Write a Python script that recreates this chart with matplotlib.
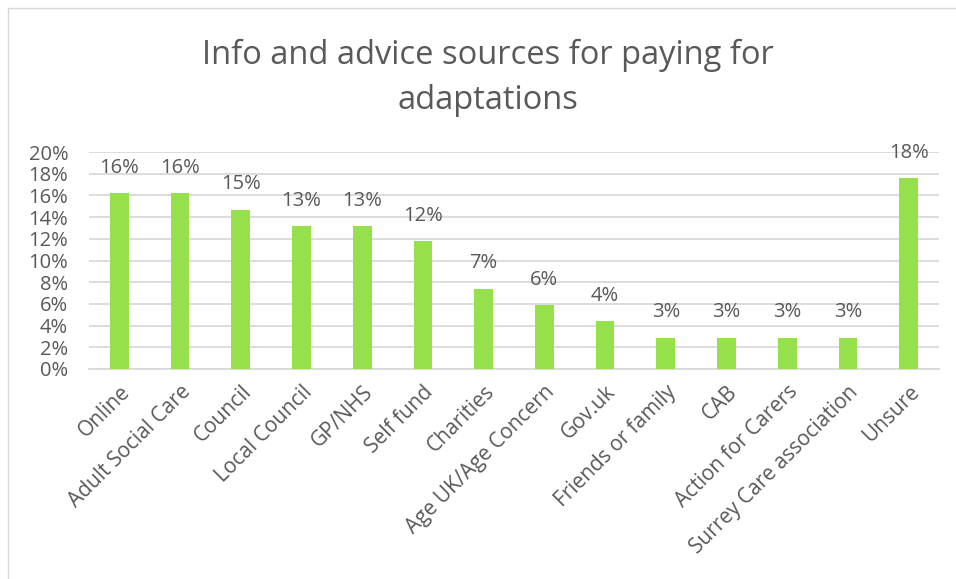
import matplotlib.pyplot as plt
import numpy as np
from matplotlib.lines import Line2D

# Survey answers (share of respondents)
categories = [
    "Online", "Adult Social Care", "Council", "Local Council", "GP/NHS",
    "Self fund", "Charities", "Age UK/Age Concern", "Gov.uk",
    "Friends or family", "CAB", "Action for Carers",
    "Surrey Care association", "Unsure",
]
shares = [0.162, 0.162, 0.147, 0.132, 0.132, 0.118, 0.074, 0.059, 0.044,
          0.029, 0.029, 0.029, 0.029, 0.176]
y_ticks = [0.00, 0.02, 0.04, 0.06, 0.08, 0.10, 0.12, 0.14, 0.16, 0.18, 0.20]

TEXT = "#595959"
GREEN = "#95E04B"
GRID = "#D9D9D9"
FS = 14.5

plt.rcParams["font.family"] = ["Open Sans", "DejaVu Sans"]

W, H = 956, 579
fig = plt.figure(figsize=(W / 100, H / 100), dpi=100)
ax = fig.add_axes([89 / W, 1 - 369 / H, (939 - 89) / W, (369 - 152) / H])

x = np.arange(len(categories))
ax.bar(x, shares, width=0.31, color=GREEN, zorder=3)

for xi, v in zip(x, shares):
    ax.annotate(f"{v * 100:.0f}%", (xi, v), xytext=(0, 11),
                textcoords="offset points", ha="center", va="bottom",
                fontsize=FS, color=TEXT)

ax.set_xlim(-0.5, len(categories) - 0.5)
ax.set_ylim(0, 0.20)
ax.set_yticks(y_ticks)
ax.set_yticklabels([f"{t * 100:.0f}%" for t in y_ticks])
ax.set_xticks(x)
ax.set_xticklabels(categories, rotation=45, ha="right",
                   rotation_mode="anchor", fontsize=15)

ax.tick_params(axis="y", length=0, labelsize=FS, colors=TEXT, pad=15)
ax.tick_params(axis="x", length=0, colors=TEXT, pad=9)
for lbl in ax.get_xticklabels():
    lbl.set_color(TEXT)

ax.grid(axis="y", color=GRID, linewidth=1.3, zorder=0)
for s in ["top", "right", "left"]:
    ax.spines[s].set_visible(False)
ax.spines["bottom"].set_color(GRID)
ax.spines["bottom"].set_linewidth(1.3)

fig.text(488 / W, 1 - 78 / H,
         "Info and advice sources for paying for\nadaptations",
         ha="center", va="center", fontsize=23.5, color=TEXT,
         linespacing=1.5)

# chart frame (left and top edges visible)
fig.add_artist(Line2D([7.5 / W, 7.5 / W], [0, 1 - 7.5 / H],
                      transform=fig.transFigure, color=GRID, linewidth=1))
fig.add_artist(Line2D([7.5 / W, 1], [1 - 7.5 / H, 1 - 7.5 / H],
                      transform=fig.transFigure, color=GRID, linewidth=1))

fig.savefig("out.png", dpi=100)
